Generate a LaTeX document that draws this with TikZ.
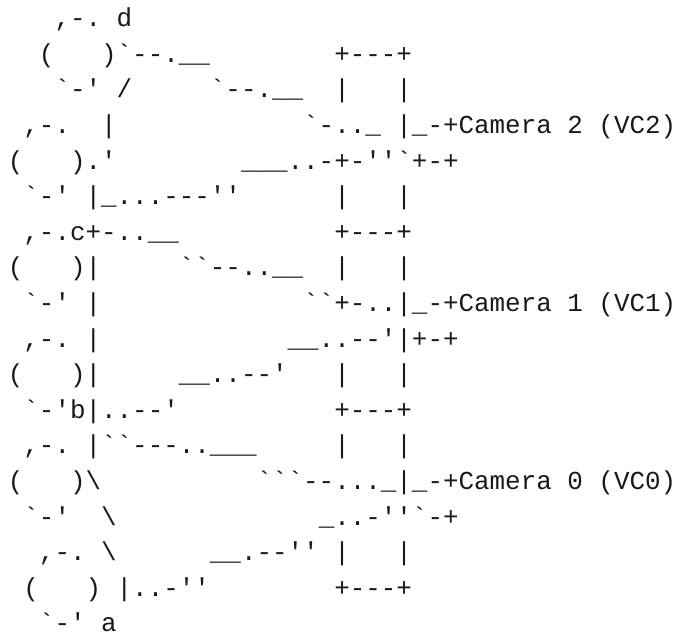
\documentclass[tikz,border=0pt]{standalone}
\usepackage{fontspec}
\setmonofont{Liberation Mono}
\newcommand\gap[1]{\hspace*{\dimexpr#1\fontcharwd\font`x\relax}}
\tikzset{asciirow/.style={font=\ttfamily\fontsize{25.9}{30}\selectfont, inner sep=0pt, anchor=base west, text=black!90}}

\begin{document}
\begin{tikzpicture}[x=15.4pt,y=35.6pt]
			%%%%% START %%%%%
			\useasboundingbox (0pt,0pt) rectangle (677pt,-637pt);
			
			\node[asciirow] (row1) at (0.5, -0.75) {\gap{3},-.\gap{1}d};
			\node[asciirow] (row2) at (0.5, -1.75) {\gap{2}(\gap{3})`--.\_\_\gap{8}+---+};
			\node[asciirow] (row3) at (0.5, -2.75) {\gap{3}`-'\gap{1}/\gap{5}`--.\_\_\gap{2}|\gap{3}|};
			\node[asciirow] (row4) at (0.5, -3.75) {\gap{1},-.\gap{2}|\gap{12}`-..\_\gap{1}|\_-+Camera 2 (VC2)};
			\node[asciirow] (row5) at (0.5, -4.75) {(\gap{3}).'\gap{8}\_\_\_..-+-''`+-+};
			\node[asciirow] (row6) at (0.5, -5.75) {\gap{1}`-'\gap{1}|\_...---''\gap{6}|\gap{3}|};
			
			\node[asciirow] (row7) at (0.5, -6.75) {\gap{1},-.c+-..\_\_\gap{10}+---+};
			\node[asciirow] (row8) at (0.5, -7.75) {(\gap{3})|\gap{5}``--..\_\_\gap{2}|\gap{3}|};
			\node[asciirow] (row9) at (0.5, -8.75) {\gap{1}`-'\gap{1}|\gap{13}``+-..|\_-+Camera 1 (VC1)};
			\node[asciirow] (row10) at (0.5, -9.75) {\gap{1},-.\gap{1}|\gap{12}\_\_..--'|+-+};
			\node[asciirow] (row11) at (0.5, -10.75) {(\gap{3})|\gap{5}\_\_..--'\gap{3}|\gap{3}|};
			\node[asciirow] (row12) at (0.5, -11.75) {\gap{1}`-'b|..--'\gap{10}+---+};
			
			\node[asciirow] (row13) at (0.5, -12.75) {\gap{1},-.\gap{1}|``---..\_\_\_\gap{5}|\gap{3}|};
			\node[asciirow] (row14) at (0.5, -13.75) {(\gap{3})\textbackslash\gap{10}```--...\_|\_-+Camera 0 (VC0)};
			\node[asciirow] (row15) at (0.5, -14.75) {\gap{1}`-'\gap{2}\textbackslash\gap{13}\_..-''`-+};
			\node[asciirow] (row16) at (0.5, -15.75) {\gap{2},-.\gap{1}\textbackslash\gap{6}\_\_.--''\gap{1}|\gap{3}|};
			\node[asciirow] (row17) at (0.5, -16.75) {\gap{1}(\gap{3})\gap{1}|..-''\gap{8}+---+};
			\node[asciirow] (row18) at (0.5, -17.75) {\gap{2}`-'\gap{1}a};
			%%%%% END %%%%%
\end{tikzpicture}
\end{document}
